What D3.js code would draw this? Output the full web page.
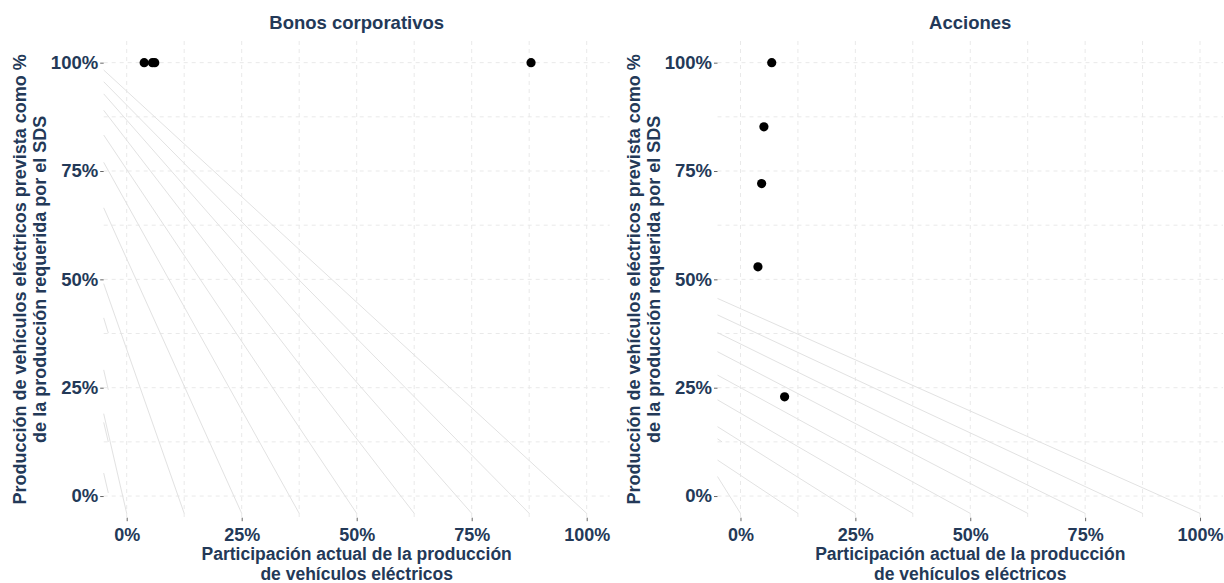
<!DOCTYPE html>
<html>
<head>
<meta charset="utf-8">
<script src="https://cdn.jsdelivr.net/npm/d3@7"></script>
<style>
  html, body { margin: 0; padding: 0; background: #ffffff; }
  svg { display: block; }
  text { font-family: "Liberation Sans", Arial, Helvetica, sans-serif; font-weight: bold; fill: #233958; }
</style>
</head>
<body>
<svg id="chart" width="1224" height="583"></svg>
<script>
// ---------------- DATA ----------------
const panelTitles = ["Bonos corporativos", "Acciones"];
const tickValues = [0, 0.25, 0.5, 0.75, 1];
const tickLabels = ["0%", "25%", "50%", "75%", "100%"];
const minorValues = [0.125, 0.375, 0.625, 0.875];

// points
const bonosX = [0.038, 0.056, 0.061, 0.879];
const bonosY = [1.0, 1.0, 1.0, 1.0];
const accionesX = [0.068, 0.051, 0.046, 0.038, 0.096];
const accionesY = [1.0, 0.852, 0.721, 0.529, 0.229];

// background guide lines: start on the left edge, end near the bottom
const guideStartX = -0.05;
const guideEndY = -0.04;
const guideEndX = [0, 0.125, 0.25, 0.375, 0.5, 0.625, 0.75, 0.875, 1.0];
const bonosGuideStartY = [0.19, 0.49, 0.665, 0.77, 0.833, 0.89, 0.928, 0.956, 0.983];
const accionesGuideStartY = [0.045, 0.083, 0.160, 0.222, 0.279, 0.333, 0.377, 0.418, 0.456];

// short stubs near the left edge
const stubX1 = -0.05, stubX2 = -0.04;
const bonosStubY1 = [0.411, 0.291, 0.170, 0.053];
const bonosStubY2 = [0.376, 0.245, 0.125, 0.007];
const accionesStubY1 = [0.132];
const accionesStubY2 = [0.125];

const yTitle = ["Producción de vehículos eléctricos prevista como %", "de la producción requerida por el SDS"];
const xTitle = ["Participación actual de la producción", "de vehículos eléctricos"];

// ---------------- LAYOUT ----------------
const svg = d3.select("#chart");
const domain = [-0.05, 1.05];
const panelDefs = [
  { title: panelTitles[0], left: 103.7, right: 609.7,
    px: bonosX, py: bonosY, gStart: bonosGuideStartY, sY1: bonosStubY1, sY2: bonosStubY2 },
  { title: panelTitles[1], left: 717.5, right: 1223,
    px: accionesX, py: accionesY, gStart: accionesGuideStartY, sY1: accionesStubY1, sY2: accionesStubY2 }
];
const panelTop = 41.0, panelBottom = 517.7;
const textColor = "#233958";

panelDefs.forEach(p => {
  const x = d3.scaleLinear().domain(domain).range([p.left, p.right]);
  const y = d3.scaleLinear().domain(domain).range([panelBottom, panelTop]);
  const g = svg.append("g");

  // grid (dashed)
  const gridVals = tickValues.concat(minorValues);
  g.selectAll(".vg").data(gridVals).join("line").attr("class", "vg")
    .attr("x1", d => x(d)).attr("x2", d => x(d))
    .attr("y1", panelTop).attr("y2", panelBottom)
    .attr("stroke", "#e9e9e9").attr("stroke-width", 1).attr("stroke-dasharray", "4,4");
  g.selectAll(".hg").data(gridVals).join("line").attr("class", "hg")
    .attr("y1", d => y(d)).attr("y2", d => y(d))
    .attr("x1", p.left).attr("x2", p.right)
    .attr("stroke", "#e9e9e9").attr("stroke-width", 1).attr("stroke-dasharray", "4,4");

  // guide lines
  const guides = guideEndX.map((ex, i) => ({ x1: guideStartX, y1: p.gStart[i], x2: ex, y2: guideEndY }));
  g.selectAll(".guide").data(guides).join("line").attr("class", "guide")
    .attr("x1", d => x(d.x1)).attr("y1", d => y(d.y1))
    .attr("x2", d => x(d.x2)).attr("y2", d => y(d.y2))
    .attr("stroke", "#e2e2e2").attr("stroke-width", 1);
  const stubs = p.sY1.map((v, i) => ({ x1: stubX1, y1: v, x2: stubX2, y2: p.sY2[i] }));
  g.selectAll(".stub").data(stubs).join("line").attr("class", "stub")
    .attr("x1", d => x(d.x1)).attr("y1", d => y(d.y1))
    .attr("x2", d => x(d.x2)).attr("y2", d => y(d.y2))
    .attr("stroke", "#e2e2e2").attr("stroke-width", 1);

  // axes
  const xAxis = d3.axisBottom(x).tickValues(tickValues).tickFormat((d, i) => tickLabels[i])
    .tickSizeInner(3.5).tickSizeOuter(0).tickPadding(7);
  const gx = g.append("g").attr("transform", `translate(0,${panelBottom})`).call(xAxis);
  gx.select(".domain").remove();
  gx.selectAll(".tick line").attr("stroke", "#666").attr("stroke-width", 1);
  gx.selectAll(".tick text").attr("font-size", 18).attr("fill", textColor)
    .attr("font-family", "Liberation Sans, Arial, sans-serif").attr("font-weight", "bold");

  const yAxis = d3.axisLeft(y).tickValues(tickValues).tickFormat((d, i) => tickLabels[i])
    .tickSizeInner(3.5).tickSizeOuter(0).tickPadding(2);
  const gy = g.append("g").attr("transform", `translate(${p.left},0)`).call(yAxis);
  gy.select(".domain").remove();
  gy.selectAll(".tick line").attr("stroke", "#666").attr("stroke-width", 1);
  gy.selectAll(".tick text").attr("font-size", 18.5).attr("fill", textColor)
    .attr("font-family", "Liberation Sans, Arial, sans-serif").attr("font-weight", "bold");

  // points
  const pts = p.px.map((v, i) => ({ x: v, y: p.py[i] }));
  g.selectAll(".pt").data(pts).join("circle").attr("class", "pt")
    .attr("cx", d => x(d.x)).attr("cy", d => y(d.y)).attr("r", 4.6).attr("fill", "#000");

  // panel title
  const cx = (p.left + p.right) / 2;
  g.append("text").attr("x", cx).attr("y", 29).attr("text-anchor", "middle")
    .attr("font-size", 18.5).text(p.title);

  // x title
  xTitle.forEach((t, i) => {
    g.append("text").attr("x", cx).attr("y", 560 + i * 19.5).attr("text-anchor", "middle")
      .attr("font-size", 17.5).text(t);
  });

  // y title (rotated)
  const cy = (panelTop + panelBottom) / 2;
  yTitle.forEach((t, i) => {
    const tx = p.left - 78 + i * 20.5;
    g.append("text").attr("transform", `translate(${tx},${cy}) rotate(-90)`)
      .attr("text-anchor", "middle").attr("font-size", 18).text(t);
  });
});
</script>
</body>
</html>
